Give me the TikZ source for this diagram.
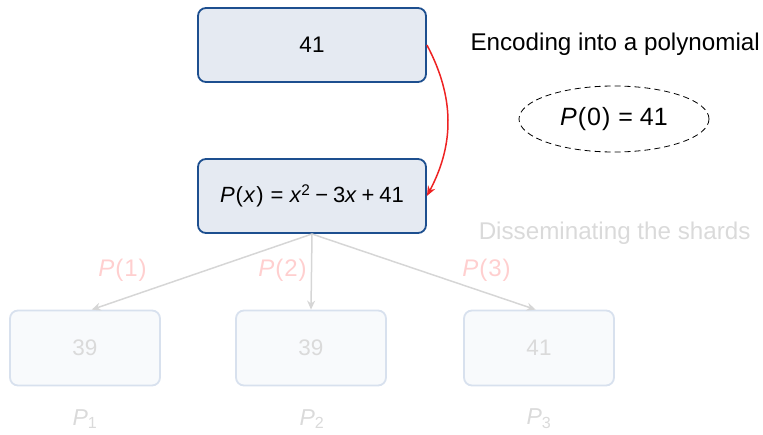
\documentclass[tikz,border=0pt]{standalone}
\usepackage{fontspec}
\setmainfont{Liberation Sans}
\usetikzlibrary{shapes.geometric,arrows.meta}
\definecolor{boxfill}{HTML}{E5EAF2}
\definecolor{boxdraw}{HTML}{1D4F8F}
\definecolor{fadefill}{HTML}{F8FAFC}
\definecolor{fadedraw}{HTML}{D8E1EE}
\definecolor{fadetext}{HTML}{DADADA}
\definecolor{fadearrow}{HTML}{D6D6D6}
\definecolor{fadepink}{HTML}{FFCFCF}
\definecolor{redarrow}{HTML}{EE2222}
\newcommand{\mi}[1]{\textit{#1}}
\newcommand{\rel}[1]{\hspace{0.28em}#1\hspace{0.28em}}
\newcommand{\bin}[1]{\hspace{0.22em}#1\hspace{0.22em}}
\newcommand{\lp}{\kern0.04em(\kern0.04em}
\newcommand{\rp}{\kern0.04em)\kern0.04em}
\tikzset{
  mainbox/.style={draw=boxdraw, fill=boxfill, line width=1.8pt, rounded corners=8pt, minimum width=228pt, minimum height=74pt, inner sep=0pt},
  fadebox/.style={draw=fadedraw, fill=fadefill, line width=1.8pt, rounded corners=8pt, minimum width=150pt, minimum height=75pt, inner sep=0pt, text=fadetext, font=\fontsize{22.5}{26}\selectfont},
  fadelabel/.style={text=fadetext, font=\fontsize{23}{26}\selectfont},
  pinklabel/.style={text=fadepink, font=\fontsize{24}{28}\selectfont},
  fadearr/.style={draw=fadearrow, line width=1.5pt, -{Stealth[length=9pt,width=8pt]}}
}
\begin{document}
\begin{tikzpicture}[x=1pt,y=-1pt]
\useasboundingbox (0,0) rectangle (763,434);
\node[mainbox, font=\fontsize{22.5}{26}\selectfont] (top) at (312,45) {41};
\node[mainbox, font=\fontsize{22}{26}\selectfont] (poly) at (312,196) {\mi{P}\lp\mi{x}\rp\rel{=}\mi{x}\textsuperscript{2}\bin{−}3\mi{x}\bin{+}41};
\node[font=\fontsize{24.2}{28}\selectfont, anchor=west] (enc) at (467,44) {Encoding into a polynomial};
\node[draw, dashed, dash pattern=on 6pt off 4pt, line width=0.8pt, ellipse, minimum width=190pt, minimum height=66pt, inner sep=0pt, font=\fontsize{25}{28}\selectfont] (p0) at (614,119) {\mi{P}\lp0\rp\rel{=}41};
\node[fadelabel, font=\fontsize{24.2}{28}\selectfont, anchor=east] (dis) at (754,233) {Disseminating the shards};
\node[fadebox] (b1) at (85,348) {39};
\node[fadebox] (b2) at (311,348) {39};
\node[fadebox] (b3) at (539,348) {41};
\node[fadelabel] (l1) at (85,419) {\mi{P}\textsubscript{1}};
\node[fadelabel] (l2) at (312,419) {\mi{P}\textsubscript{2}};
\node[fadelabel] (l3) at (539,419) {\mi{P}\textsubscript{3}};
\coordinate (src) at (312,234);
\draw[fadearr] (src) -- (b1.80);
\draw[fadearr] (src) -- (b2.north);
\draw[fadearr] (src) -- (b3.95);
\node[pinklabel] (q1) at (123,270) {\mi{P}\lp1\rp};
\node[pinklabel] (q2) at (283,270) {\mi{P}\lp2\rp};
\node[pinklabel] (q3) at (487,270) {\mi{P}\lp3\rp};
\draw[redarrow, line width=1.5pt, -{Stealth[length=10pt,width=8pt]}] (top.east) to[out=-62, in=62] (poly.east);
\end{tikzpicture}
\end{document}
